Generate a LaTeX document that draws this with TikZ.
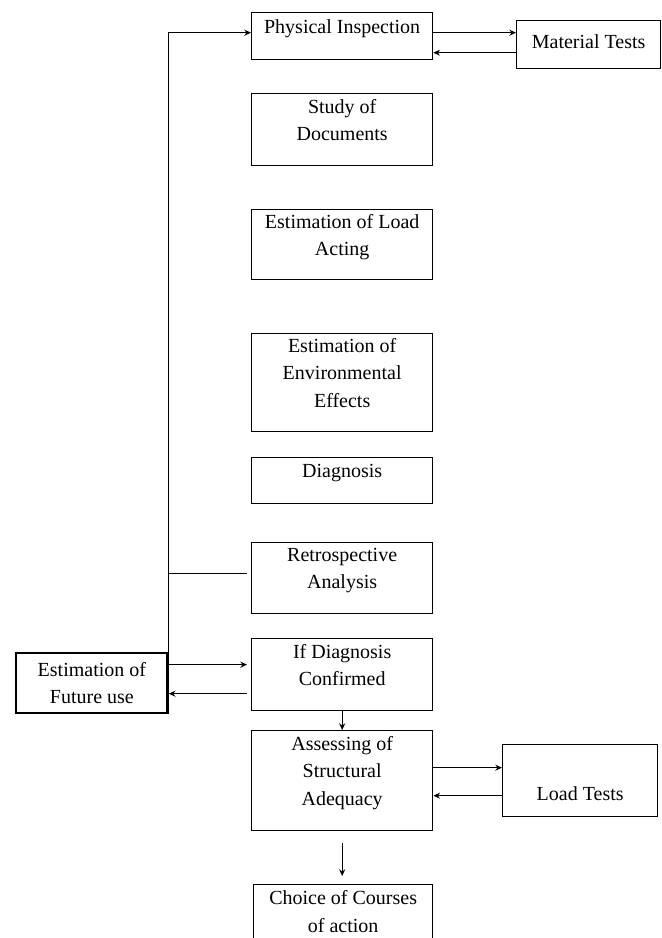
\documentclass[tikz,border=0pt]{standalone}
\usepackage{fontspec}
\setmainfont{Liberation Serif}
\usetikzlibrary{arrows.meta,positioning}

\tikzset{
  box/.style={draw, line width=1pt, anchor=north west, minimum width=135.75pt,
    align=center, inner sep=2pt, font=\fontsize{15}{20.5}\selectfont, text depth=15pt},
  flow/.style={line width=0.9pt, -{Stealth[length=5pt,width=4.5pt]}},
}

\begin{document}
\begin{tikzpicture}[x=0.75pt, y=-0.75pt]
  % Page frame
  \clip (0,0) rectangle (661,938);

  % Main column
  \node[box, minimum height=35.25pt] (PI) at (251,12) {Physical Inspection};
  \node[box, minimum height=54pt] (SD) at (251,93) {Study of\\Documents};
  \node[box, minimum height=52.5pt] (LA) at (251,209) {Estimation of Load\\Acting};
  \node[box, minimum height=73.5pt] (EE) at (251,333) {Estimation of\\Environmental\\Effects};
  \node[box, minimum height=34.5pt] (DG) at (251,457) {Diagnosis};
  \node[box, minimum height=53.25pt] (RA) at (251,542) {Retrospective\\Analysis};
  \node[box, minimum height=54pt] (IDC) at (251,638) {If Diagnosis\\Confirmed};
  \node[box, minimum height=75pt] (ASA) at (251,730) {Assessing of\\Structural\\Adequacy};
  \node[box, minimum width=134.25pt, minimum height=55pt] (CH) at (253,884) {Choice of Courses\\of action};

  % Side boxes
  \node[box, minimum width=108pt, minimum height=36pt, text depth=4pt] (MT) at (516,20) {Material Tests};
  \node[box, minimum width=116.25pt, minimum height=54pt, text height=32pt, text depth=2pt] (LT) at (502,744) {Load Tests};
  \node[box, line width=1.8pt, minimum width=113.5pt, minimum height=45pt, text depth=0pt] (EFU) at (15,652) {Estimation of\\Future use};

  % Feedback line
  \draw[flow] (EFU.north east) |- ([yshift=2.6pt]PI.west);
  \coordinate (ra in) at ([yshift=3.4pt]RA.west);
  \draw[line width=0.9pt] (ra in -| EFU.east) -- ([xshift=-3pt]ra in);

  % Physical Inspection <-> Material Tests
  \coordinate (pi out) at ([yshift=2.6pt]PI.east);
  \coordinate (pi in) at ([yshift=-12.4pt]PI.east);
  \draw[flow] (pi out) -- (pi out -| MT.west);
  \draw[flow] (pi in -| MT.west) -- (pi in);

  % Future use <-> If Diagnosis Confirmed
  \coordinate (idc in) at ([yshift=7.5pt]IDC.west);
  \coordinate (idc out) at ([yshift=-14.25pt]IDC.west);
  \draw[flow, shorten >=3pt] (idc in -| EFU.east) -- (idc in);
  \draw[flow] ([xshift=-3pt]idc out) -- (idc out -| EFU.east);

  % Down the column
  \draw[flow] (IDC.south) -- (ASA.north);
  \draw[flow, shorten <=9pt, shorten >=6pt] (ASA.south) -- (ASA.south |- CH.north);

  % Assessing <-> Load Tests
  \coordinate (asa out) at ([yshift=9.75pt]ASA.east);
  \coordinate (asa in) at ([yshift=-11.25pt]ASA.east);
  \draw[flow] (asa out) -- (asa out -| LT.west);
  \draw[flow] (asa in -| LT.west) -- (asa in);
\end{tikzpicture}
\end{document}
